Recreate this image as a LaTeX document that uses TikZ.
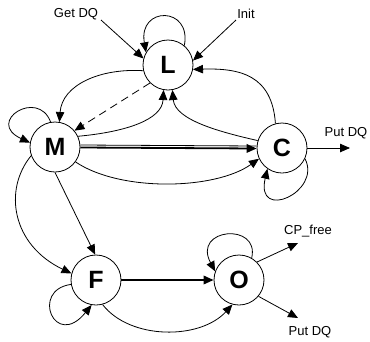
\documentclass[tikz,border=0pt]{standalone}
\usepackage{fontspec}
\setmainfont{Liberation Sans}
\usetikzlibrary{arrows.meta}
\begin{document}
\begin{tikzpicture}[x=1pt,y=-1pt,
  state/.style={circle,draw,line width=0.8pt,minimum size=50pt,inner sep=0pt,
    font=\fontsize{25}{25}\selectfont\bfseries},
  lbl/.style={font=\fontsize{13}{13}\selectfont,inner sep=0pt},
  edge/.style={line width=0.8pt,-{Triangle[length=10pt,width=8.5pt]}},
  heavy/.style={line width=1.8pt,-{Triangle[length=10pt,width=8.5pt]}},
  dashedge/.style={edge,dash pattern=on 8pt off 5pt}]
\useasboundingbox (0,0) rectangle (370,341);

% states
\node[state] (L) at (168,65) {L};
\node[state] (M) at (55,147) {M};
\node[state] (C) at (282,148) {C};
\node[state] (F) at (96,280) {F};
\node[state] (O) at (239,280) {O};

% external inputs and outputs
\node[lbl] (getdq) at (76,14) {Get DQ};
\coordinate (gd) at (101,20);
\node[lbl] (init) at (246,14) {Init};
\coordinate (in) at (236,20);
\node[lbl] (putc) at (346,133) {Put DQ};
\coordinate (pc) at (350,148);
\node[lbl] (cpfree) at (308,231) {CP\_free};
\coordinate (cp) at (298,243);
\node[lbl] (puto) at (310,332) {Put DQ};
\coordinate (po) at (298,318);

\draw[edge] (gd) -- (L.165);
\draw[edge] (in) -- (L.10);
\draw[edge] (C.east) -- (pc);
\draw[edge] (O.45) -- (cp);
\draw[edge] (O.-40) -- (po);

% self loops
\draw[edge] (L.50) .. controls (192,6) and (138,6) .. (L.150);
\draw[edge] (M.100) .. controls (38,88) and (-15,122) .. (M.170);
\draw[edge] (C.-25) .. controls (322,192) and (255,222) .. (C.235);
\draw[edge] (F.190) .. controls (30,290) and (55,350) .. (F.260);
\draw[edge] (O.60) .. controls (260,222) and (192,228) .. (O.160);

% transitions around L
\draw[edge] (L.193) .. controls (100,68) and (62,85) .. (M.80);
\draw[dashedge] (L.225) -- (M.40);
\draw[edge] (M.25) .. controls (125,132) and (162,120) .. (L.260);
\draw[edge] (C.163) .. controls (220,132) and (175,120) .. (L.280);
\draw[edge] (C.105) .. controls (272,75) and (240,68) .. (L.350);

% M to C
\draw[line width=0.8pt] ([yshift=2pt]M.east) -- ([yshift=2pt]C.west);
\draw[heavy] ([yshift=-0.5pt]M.east) -- ([yshift=-0.5pt]C.west);
\draw[edge] (M.-36) .. controls (120,192) and (215,190) .. (C.205);

% M to F
\draw[edge] (M.270) -- (F.92);
\draw[edge] (M.200) .. controls (3,190) and (12,245) .. (F.165);

% F to O
\draw[heavy] (F.east) -- (O.west);
\draw[edge] (F.-75) .. controls (130,340) and (200,340) .. (O.255);
\end{tikzpicture}
\end{document}
